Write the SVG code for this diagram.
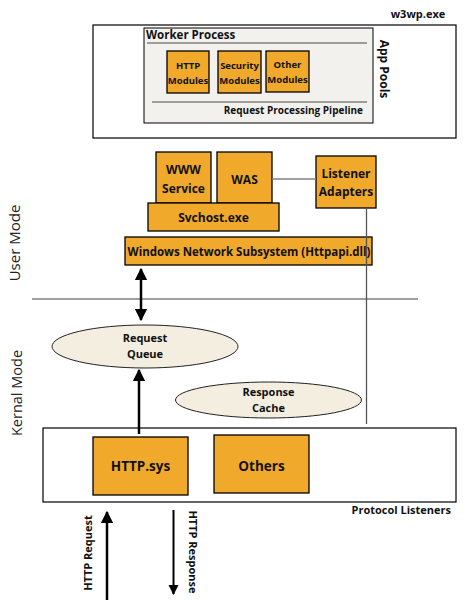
<svg xmlns="http://www.w3.org/2000/svg" width="469" height="600" viewBox="0 0 469 600">
<defs>
<style>
.t{font-family:"Open Sans","Noto Sans","DejaVu Sans",sans-serif;font-weight:bold;fill:#111;}
.r{font-family:"Open Sans","Noto Sans","DejaVu Sans",sans-serif;fill:#222;}
.box{fill:#F0A92A;stroke:#000;stroke-width:1.3;}
.ell{fill:#F3EEE0;stroke:#222;stroke-width:1;}
.gl{stroke:#808080;stroke-width:1.5;fill:none;}
.ar{stroke:#000;stroke-width:2.5;fill:none;}
</style>
<marker id="ah" viewBox="0 0 10 10" refX="9" refY="5" markerWidth="5" markerHeight="5.5" orient="auto-start-reverse" markerUnits="strokeWidth">
<path d="M0,0 L10,5 L0,10 z" fill="#000"/>
</marker>
</defs>
<rect width="469" height="600" fill="#fff"/>

<g id="app-pools">
<rect x="93" y="25" width="363" height="113" fill="#fff" stroke="#000" stroke-width="1.2"/>
<text class="t" x="418" y="18" font-size="11" text-anchor="middle">w3wp.exe</text>
<text class="t" x="0" y="0" font-size="12" text-anchor="middle" transform="translate(380,69) rotate(90)">App Pools</text>
</g>

<g id="worker-process">
<rect x="144" y="28" width="229" height="95" fill="#F2F1EE" stroke="#000" stroke-width="1"/>
<text class="t" x="146" y="39" font-size="11.5">Worker Process</text>
<line x1="147" y1="43" x2="367" y2="43" class="gl"/>
<line x1="152" y1="102" x2="367" y2="102" class="gl"/>
<text class="t" x="363" y="114" font-size="10" text-anchor="end">Request Processing Pipeline</text>
</g>

<g id="http-modules">
<rect class="box" x="167" y="51" width="42" height="42"/>
<text class="t" x="188" y="69" font-size="9.5" text-anchor="middle">HTTP</text>
<text class="t" x="188" y="84" font-size="9.5" text-anchor="middle">Modules</text>
</g>
<g id="security-modules">
<rect class="box" x="218" y="51" width="43" height="42"/>
<text class="t" x="239.5" y="69" font-size="9.5" text-anchor="middle">Security</text>
<text class="t" x="239.5" y="84" font-size="9.5" text-anchor="middle">Modules</text>
</g>
<g id="other-modules">
<rect class="box" x="266" y="51" width="43" height="41"/>
<text class="t" x="287.5" y="68" font-size="9.5" text-anchor="middle">Other</text>
<text class="t" x="287.5" y="83" font-size="9.5" text-anchor="middle">Modules</text>
</g>

<g id="www-service">
<rect class="box" x="156" y="152" width="55" height="51"/>
<text class="t" x="183.5" y="174" font-size="12" text-anchor="middle">WWW</text>
<text class="t" x="183.5" y="193" font-size="12" text-anchor="middle">Service</text>
</g>
<g id="was">
<rect class="box" x="217" y="152" width="55" height="51"/>
<text class="t" x="244.5" y="184" font-size="12" text-anchor="middle">WAS</text>
</g>
<g id="svchost">
<rect class="box" x="148" y="203" width="131" height="28"/>
<text class="t" x="213.5" y="221.5" font-size="12" text-anchor="middle">Svchost.exe</text>
</g>
<g id="listener-adapters">
<rect class="box" x="316" y="156" width="60" height="52"/>
<text class="t" x="346" y="178" font-size="12" text-anchor="middle">Listener</text>
<text class="t" x="346" y="196" font-size="12" text-anchor="middle">Adapters</text>
</g>
<g id="windows-network-subsystem">
<rect class="box" x="125" y="237" width="247" height="28"/>
<text class="t" x="249" y="255.5" font-size="11.5" text-anchor="middle">Windows Network Subsystem (Httpapi.dll)</text>
</g>

<g id="mode-labels">
<line x1="32" y1="299" x2="418" y2="299" class="gl"/>
<text class="r" x="0" y="0" font-size="15" text-anchor="middle" transform="translate(20,243) rotate(-90)">User Mode</text>
<text class="r" x="0" y="0" font-size="14.5" text-anchor="middle" transform="translate(22,393) rotate(-90)">Kernal Mode</text>
</g>

<g id="request-queue">
<ellipse class="ell" cx="145" cy="346.5" rx="93" ry="21.5"/>
<text class="t" x="145" y="342" font-size="11" text-anchor="middle">Request</text>
<text class="t" x="145" y="358" font-size="11" text-anchor="middle">Queue</text>
</g>
<g id="response-cache">
<ellipse class="ell" cx="268.5" cy="400" rx="93" ry="18"/>
<text class="t" x="268.5" y="396" font-size="11" text-anchor="middle">Response</text>
<text class="t" x="268.5" y="412" font-size="11" text-anchor="middle">Cache</text>
</g>

<g id="protocol-listeners">
<rect x="43" y="428" width="413" height="74" fill="#fff" stroke="#000" stroke-width="1.2"/>
<text class="t" x="451" y="514" font-size="11" text-anchor="end">Protocol Listeners</text>
</g>
<g id="http-sys">
<rect class="box" x="93" y="437" width="95" height="58"/>
<text class="t" x="140.5" y="471" font-size="13.5" text-anchor="middle">HTTP.sys</text>
</g>
<g id="others">
<rect class="box" x="214" y="435" width="95" height="58"/>
<text class="t" x="261.5" y="471" font-size="13.5" text-anchor="middle">Others</text>
</g>

<g id="connectors">
<line x1="272" y1="179" x2="316" y2="179" class="gl"/>
<line x1="366.5" y1="208" x2="366.5" y2="424" stroke="#555" stroke-width="1.3"/>
<line x1="141" y1="269" x2="141" y2="320" class="ar" marker-start="url(#ah)" marker-end="url(#ah)"/>
<line x1="139" y1="434" x2="139" y2="370" class="ar" marker-end="url(#ah)"/>
<line x1="107" y1="600" x2="107" y2="512" class="ar" marker-end="url(#ah)"/>
<line x1="173.5" y1="510" x2="173.5" y2="594" stroke="#000" stroke-width="2" marker-end="url(#ah)"/>
<text class="t" x="0" y="0" font-size="11" text-anchor="middle" transform="translate(92,553) rotate(-90)">HTTP Request</text>
<text class="t" x="0" y="0" font-size="11" text-anchor="middle" transform="translate(189,552) rotate(90)">HTTP Response</text>
</g>
</svg>
